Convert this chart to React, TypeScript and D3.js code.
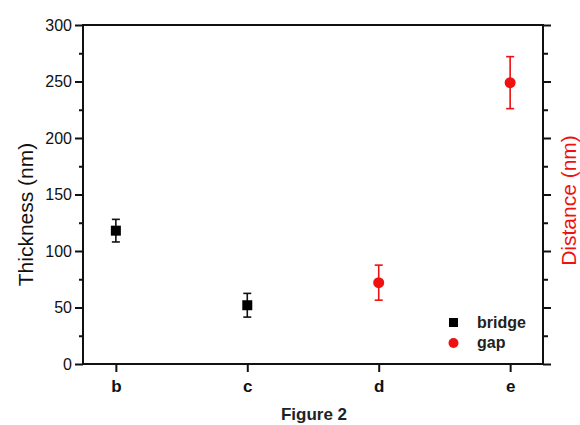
import React, { useRef, useEffect } from "react";
import * as d3 from "d3";

const categories = ["b", "c", "d", "e"];
const bridgeCats = ["b", "c"];
const bridgeValues = [118, 52];
const bridgeErrors = [10, 10.5];
const gapCats = ["d", "e"];
const gapValues = [72, 249];
const gapErrors = [15.5, 23];
const yTicks = [0, 50, 100, 150, 200, 250, 300];
const yMinorTicks = [25, 75, 125, 175, 225, 275];

const App = () => {
    const svgRef = useRef<SVGSVGElement>(null);

    useEffect(() => {
        const svg = d3.select(svgRef.current);
        // clear previous render
        svg.selectAll("*").remove();

        const width = 580;
        const height = 425;
        const left = 83, right = 543, top = 25, bottom = 364;
        const font = "'Liberation Sans', Arial, sans-serif";
        const red = "#f01010";

        svg.attr("width", width).attr("height", height).style("font-family", font);
        svg.append("rect").attr("width", width).attr("height", height).attr("fill", "#fff");

        const x = d3.scalePoint<string>().domain(categories).range([left, right]).padding(0.25);
        const y = d3.scaleLinear().domain([0, 300]).range([bottom, top]);
        const y2 = d3.scaleLinear().domain([0, 300]).range([bottom, top]);

        // left axis
        const gl = svg.append("g").attr("transform", `translate(${left},0)`);
        gl.call(d3.axisLeft(y).tickValues(yTicks).tickSize(8).tickPadding(3));
        gl.append("g").call(d3.axisLeft(y).tickValues(yMinorTicks).tickSize(4).tickFormat(() => ""));
        gl.selectAll(".domain").remove();
        gl.selectAll("line").attr("stroke", "#111").attr("stroke-width", 2);
        gl.selectAll("text").attr("font-size", 16).attr("fill", "#111").attr("font-family", font);

        // right axis (no labels)
        const gr = svg.append("g").attr("transform", `translate(${right},0)`);
        gr.call(d3.axisRight(y2).tickValues(yTicks).tickSize(8).tickFormat(() => ""));
        gr.append("g").call(d3.axisRight(y2).tickValues(yMinorTicks).tickSize(5).tickFormat(() => ""));
        gr.selectAll(".domain").remove();
        gr.selectAll("line").attr("stroke", "#111").attr("stroke-width", 2);

        // bottom axis
        const gb = svg.append("g").attr("transform", `translate(0,${bottom})`);
        gb.call(d3.axisBottom(x).tickSize(8).tickPadding(8));
        gb.selectAll(".domain").remove();
        gb.selectAll("line").attr("stroke", "#111").attr("stroke-width", 2);
        gb.selectAll("text").attr("font-size", 17).attr("font-weight", "bold").attr("fill", "#111").attr("font-family", font);

        // frame
        svg.append("rect")
            .attr("x", left).attr("y", top)
            .attr("width", right - left).attr("height", bottom - top)
            .attr("fill", "none").attr("stroke", "#111").attr("stroke-width", 2);

        // axis titles
        svg.append("text")
            .attr("transform", `translate(33,${(top + bottom) / 2 + 20}) rotate(-90)`)
            .attr("text-anchor", "middle").attr("font-size", 21).attr("fill", "#111")
            .text("Thickness (nm)");
        svg.append("text")
            .attr("transform", `translate(576,${(top + bottom) / 2 + 6}) rotate(-90)`)
            .attr("text-anchor", "middle").attr("font-size", 21).attr("fill", red)
            .text("Distance (nm)");
        svg.append("text")
            .attr("x", 314).attr("y", 420)
            .attr("text-anchor", "middle").attr("font-size", 17).attr("font-weight", "bold").attr("fill", "#222")
            .text("Figure 2");

        // error bars
        const errBar = (g, cx, v, e, color, cap) => {
            g.append("line").attr("x1", cx).attr("x2", cx).attr("y1", y(v - e)).attr("y2", y(v + e));
            g.append("line").attr("x1", cx - cap).attr("x2", cx + cap).attr("y1", y(v + e)).attr("y2", y(v + e));
            g.append("line").attr("x1", cx - cap).attr("x2", cx + cap).attr("y1", y(v - e)).attr("y2", y(v - e));
            g.attr("stroke", color).attr("stroke-width", 1.6);
        };

        bridgeCats.forEach((c, i) => {
            errBar(svg.append("g"), x(c), bridgeValues[i], bridgeErrors[i], "#111", 4);
            svg.append("rect")
                .attr("x", x(c) - 5).attr("y", y(bridgeValues[i]) - 5)
                .attr("width", 10).attr("height", 10).attr("fill", "#000");
        });

        gapCats.forEach((c, i) => {
            errBar(svg.append("g"), x(c), gapValues[i], gapErrors[i], red, 4);
            svg.append("circle")
                .attr("cx", x(c)).attr("cy", y2(gapValues[i]))
                .attr("r", 5.5).attr("fill", red);
        });

        // legend
        const lg = svg.append("g");
        lg.append("rect").attr("x", 449).attr("y", 318).attr("width", 9).attr("height", 9).attr("fill", "#000");
        lg.append("circle").attr("cx", 453.5).attr("cy", 343).attr("r", 5).attr("fill", red);
        lg.append("text").attr("x", 477).attr("y", 328).attr("font-size", 16).attr("font-weight", "bold").attr("fill", "#222").text("bridge");
        lg.append("text").attr("x", 477).attr("y", 348).attr("font-size", 16).attr("font-weight", "bold").attr("fill", "#222").text("gap");
    }, []);

    return (
        <svg ref={svgRef} style={{ position: "absolute", left: 0, top: 0 }}></svg>
    );
};

export default App;
